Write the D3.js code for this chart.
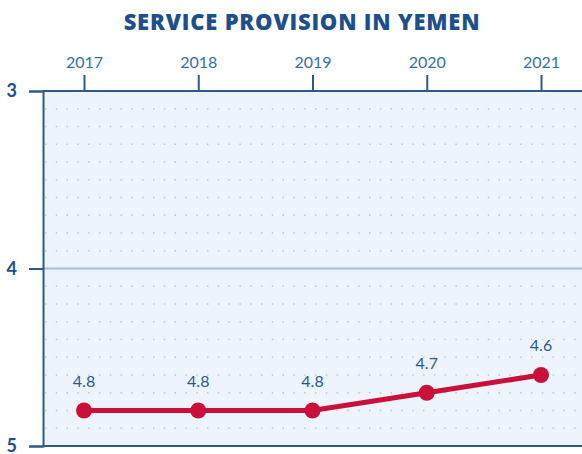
<!DOCTYPE html>
<html>
<head>
<meta charset="utf-8">
<script src="https://cdn.jsdelivr.net/npm/d3@7"></script>
<style>
  body { margin: 0; background: #fff; }
  svg { display: block; }
</style>
</head>
<body>
<div id="chart"></div>
<script>
var years = ["2017", "2018", "2019", "2020", "2021"];
var scores = [4.8, 4.8, 4.8, 4.7, 4.6];
var yTicks = [3, 4, 5];

var width = 582, height = 454;
var plotLeft = 43, plotTop = 91, plotBottom = 446;

var svg = d3.select('#chart').append('svg')
  .attr('width', width)
  .attr('height', height);

var x = d3.scalePoint()
  .domain(years)
  .range([84, 541]);

var y = d3.scaleLinear()
  .domain([3, 5])
  .range([plotTop, plotBottom]);

// title
svg.append('text')
  .attr('x', 302)
  .attr('y', 30)
  .attr('text-anchor', 'middle')
  .style('font-family', 'Open Sans, sans-serif')
  .style('font-weight', 800)
  .style('font-size', '22px')
  .style('letter-spacing', '0.8px')
  .style('fill', '#1d4f8c')
  .text('SERVICE PROVISION IN YEMEN');

// plot background
svg.append('rect')
  .attr('x', plotLeft)
  .attr('y', plotTop)
  .attr('width', width - plotLeft)
  .attr('height', plotBottom - plotTop)
  .attr('fill', '#edf3fa');

// dotted grid every 0.1
var gridVals = d3.range(31, 50).map(function(d) { return d / 10; })
  .filter(function(d) { return d !== 4; });

svg.append('g').selectAll('line').data(gridVals)
  .enter().append('line')
  .attr('x1', plotLeft + 2)
  .attr('x2', width)
  .attr('y1', function(d) { return y(d); })
  .attr('y2', function(d) { return y(d); })
  .attr('stroke', '#b9c9d9')
  .attr('stroke-width', 1.4)
  .attr('stroke-dasharray', '1.4,9.4');

// solid line at 4
svg.append('line')
  .attr('x1', plotLeft)
  .attr('x2', width)
  .attr('y1', y(4))
  .attr('y2', y(4))
  .attr('stroke', '#9fbfdc')
  .attr('stroke-width', 2);

// top axis (years)
var xAxis = d3.axisTop(x).tickSize(16).tickSizeOuter(0).tickPadding(7);
var xg = svg.append('g')
  .attr('transform', 'translate(0,' + plotTop + ')')
  .call(xAxis);
xg.select('.domain').remove();
xg.selectAll('line').attr('stroke', '#2c5a88').attr('stroke-width', 2);
xg.selectAll('text')
  .style('font-family', 'Lato, sans-serif')
  .style('font-size', '16px')
  .style('fill', '#3470a3');

// frame lines
svg.append('line')
  .attr('x1', plotLeft).attr('x2', width)
  .attr('y1', plotTop).attr('y2', plotTop)
  .attr('stroke', '#2c5a88').attr('stroke-width', 2);
svg.append('line')
  .attr('x1', plotLeft).attr('x2', width)
  .attr('y1', plotBottom).attr('y2', plotBottom)
  .attr('stroke', '#2c5a88').attr('stroke-width', 2);

// left axis
var yAxis = d3.axisLeft(y).tickValues(yTicks).tickSize(14).tickPadding(12)
  .tickFormat(d3.format('d'));
var yg = svg.append('g')
  .attr('transform', 'translate(' + plotLeft + ',0)')
  .call(yAxis);
yg.select('.domain').attr('stroke', '#2c5a88').attr('stroke-width', 2);
yg.selectAll('line').attr('stroke', '#2c5a88').attr('stroke-width', 2);
yg.selectAll('text')
  .style('font-family', 'Lato, sans-serif')
  .style('font-weight', 700)
  .style('font-size', '18px')
  .style('fill', '#1d4f8c');

// series line
var pts = years.map(function(yr, i) { return { year: yr, value: scores[i] }; });

svg.append('path')
  .datum(pts)
  .attr('fill', 'none')
  .attr('stroke', '#c8103a')
  .attr('stroke-width', 5)
  .attr('d', d3.line()
    .x(function(d) { return x(d.year); })
    .y(function(d) { return y(d.value); }));

svg.append('g').selectAll('circle').data(pts)
  .enter().append('circle')
  .attr('cx', function(d) { return x(d.year); })
  .attr('cy', function(d) { return y(d.value); })
  .attr('r', 8)
  .attr('fill', '#c8103a');

svg.append('g').selectAll('text').data(pts)
  .enter().append('text')
  .attr('x', function(d) { return x(d.year); })
  .attr('y', function(d) { return y(d.value) - 24; })
  .attr('text-anchor', 'middle')
  .style('font-family', 'Lato, sans-serif')
  .style('font-size', '16px')
  .style('fill', '#2a5a8c')
  .text(function(d) { return d3.format('.1f')(d.value); });
</script>
</body>
</html>
